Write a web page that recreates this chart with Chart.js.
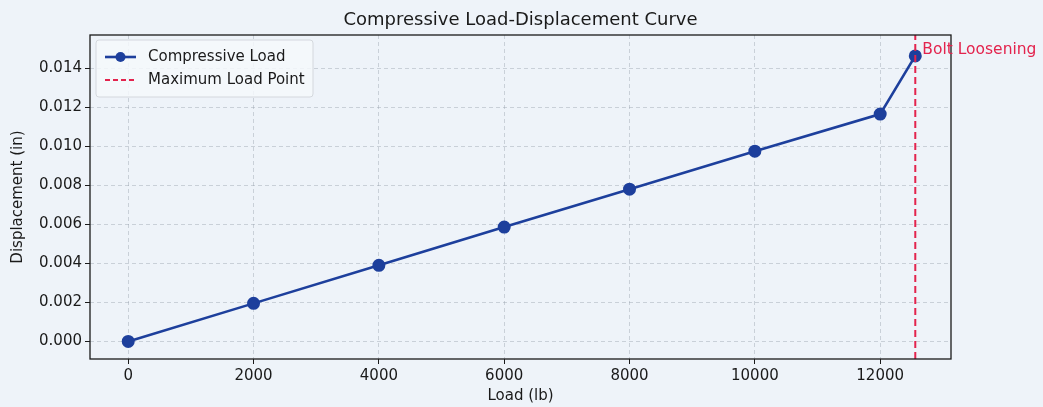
<!DOCTYPE html>
<html>
<head>
<meta charset="UTF-8" />
<title>Compressive Load-Displacement Curve</title>
<script src="https://cdn.jsdelivr.net/npm/chart.js@4"></script>
<style>
  html, body { margin: 0; padding: 0; background: #eef3f9; }
  #wrap { width: 1043px; height: 407px; }
</style>
</head>
<body>
<div id="wrap"><canvas id="chart" width="1043" height="407"></canvas></div>
<script>
const loads = [0, 2000, 4000, 6000, 8000, 10000, 12000, 12560];
const displacements = [0, 0.00195, 0.0039, 0.00586, 0.0078, 0.00975, 0.01165, 0.01463];
const maxLoad = 12560;
const xTicks = [0, 2000, 4000, 6000, 8000, 10000, 12000];
const yTicks = [0, 0.002, 0.004, 0.006, 0.008, 0.01, 0.012, 0.014];
const xRange = [-610, 13130];
const yRange = [-0.0009, 0.0157];

const chartTitle = "Compressive Load-Displacement Curve";
const lineColor = "#1d3f9c";
const maxColor = "#e3234d";
const fontFamily = "'DejaVu Sans', sans-serif";

// title over the plot area, frame, in-axes legend, text label
const framePlugin = {
  id: "frame",
  afterDraw(chart) {
    const { ctx, chartArea: a, scales } = chart;
    ctx.save();
    ctx.strokeStyle = "#1a1a1a";
    ctx.lineWidth = 1.3;
    ctx.strokeRect(a.left, a.top, a.right - a.left, a.bottom - a.top);

    // matplotlib centres the title on the axes, not the figure
    ctx.fillStyle = "#1a1a1a";
    ctx.font = "18px " + fontFamily;
    ctx.textAlign = "center";
    ctx.textBaseline = "middle";
    ctx.fillText(chartTitle, (a.left + a.right) / 2, a.top - 15);

    // label next to the maximum load point
    const lx = scales.x.getPixelForValue(maxLoad);
    const ly = scales.y.getPixelForValue(displacements[displacements.length - 1]);
    ctx.fillStyle = maxColor;
    ctx.font = "15.5px " + fontFamily;
    ctx.textAlign = "left";
    ctx.fillText("Bolt Loosening", lx + 7, ly - 6);

    // legend box
    const bx = a.left + 6, by = a.top + 5, bw = 217, bh = 57;
    ctx.fillStyle = "rgba(245, 248, 252, 0.85)";
    ctx.strokeStyle = "#d4d8dd";
    ctx.lineWidth = 1;
    ctx.beginPath();
    ctx.roundRect(bx, by, bw, bh, 3);
    ctx.fill();
    ctx.stroke();

    const ds = chart.data.datasets;
    const rows = [by + 17, by + 40];
    // row 1: line with marker
    ctx.strokeStyle = ds[0].borderColor;
    ctx.lineWidth = 2.6;
    ctx.setLineDash([]);
    ctx.beginPath();
    ctx.moveTo(bx + 9, rows[0]);
    ctx.lineTo(bx + 40, rows[0]);
    ctx.stroke();
    ctx.fillStyle = ds[0].pointBackgroundColor;
    ctx.beginPath();
    ctx.arc(bx + 24.5, rows[0], 5, 0, Math.PI * 2);
    ctx.fill();
    // row 2: dashed red
    ctx.strokeStyle = ds[1].borderColor;
    ctx.lineWidth = 1.8;
    ctx.setLineDash([5, 3]);
    ctx.beginPath();
    ctx.moveTo(bx + 9, rows[1]);
    ctx.lineTo(bx + 40, rows[1]);
    ctx.stroke();
    ctx.setLineDash([]);

    ctx.fillStyle = "#1a1a1a";
    ctx.font = "15px " + fontFamily;
    ctx.textAlign = "left";
    ctx.fillText(ds[0].label, bx + 52, rows[0]);
    ctx.fillText(ds[1].label, bx + 52, rows[1]);
    ctx.restore();
  },
};

const tickFont = { family: fontFamily, size: 15 };

new Chart(document.getElementById("chart"), {
  type: "line",
  data: {
    datasets: [
      {
        label: "Compressive Load",
        data: loads.map((x, i) => ({ x, y: displacements[i] })),
        borderColor: lineColor,
        backgroundColor: lineColor,
        pointBackgroundColor: lineColor,
        pointBorderColor: lineColor,
        pointRadius: 5.2,
        borderWidth: 2.6,
        tension: 0,
        order: 1,
      },
      {
        label: "Maximum Load Point",
        data: [
          { x: maxLoad, y: yRange[0] },
          { x: maxLoad, y: yRange[1] },
        ],
        borderColor: maxColor,
        borderWidth: 2,
        borderDash: [7, 4],
        pointRadius: 0,
        order: 0,
      },
    ],
  },
  plugins: [framePlugin],
  options: {
    responsive: false,
    animation: false,
    layout: { padding: { left: 0, right: 92, top: 35, bottom: 0 } },
    plugins: {
      legend: { display: false },
      tooltip: { enabled: false },
      title: { display: false },
    },
    scales: {
      x: {
        type: "linear",
        min: xRange[0],
        max: xRange[1],
        afterBuildTicks(scale) {
          scale.ticks = xTicks.map((v) => ({ value: v }));
        },
        afterFit(scale) {
          scale.height = 48;
        },
        ticks: {
          color: "#1a1a1a",
          font: tickFont,
          padding: 3,
          maxRotation: 0,
          callback: (v) => String(v),
        },
        grid: {
          color: "rgba(150, 160, 172, 0.42)",
          tickColor: "#1a1a1a",
          tickLength: 5,
          lineWidth: 1,
        },
        border: { display: false, dash: [4, 3] },
        title: {
          display: true,
          text: "Load (lb)",
          color: "#1a1a1a",
          font: tickFont,
          padding: { top: 0, bottom: 2 },
        },
      },
      y: {
        type: "linear",
        min: yRange[0],
        max: yRange[1],
        afterBuildTicks(scale) {
          scale.ticks = yTicks.map((v) => ({ value: v }));
        },
        afterFit(scale) {
          scale.width = 90;
        },
        ticks: {
          color: "#1a1a1a",
          font: tickFont,
          padding: 3,
          callback: (v) => v.toFixed(3),
        },
        grid: {
          color: "rgba(150, 160, 172, 0.42)",
          tickColor: "#1a1a1a",
          tickLength: 5,
          lineWidth: 1,
        },
        border: { display: false, dash: [4, 3] },
        title: {
          display: true,
          text: "Displacement (in)",
          color: "#1a1a1a",
          font: tickFont,
          padding: { top: 9, bottom: 0 },
        },
      },
    },
  },
});
</script>
</body>
</html>
